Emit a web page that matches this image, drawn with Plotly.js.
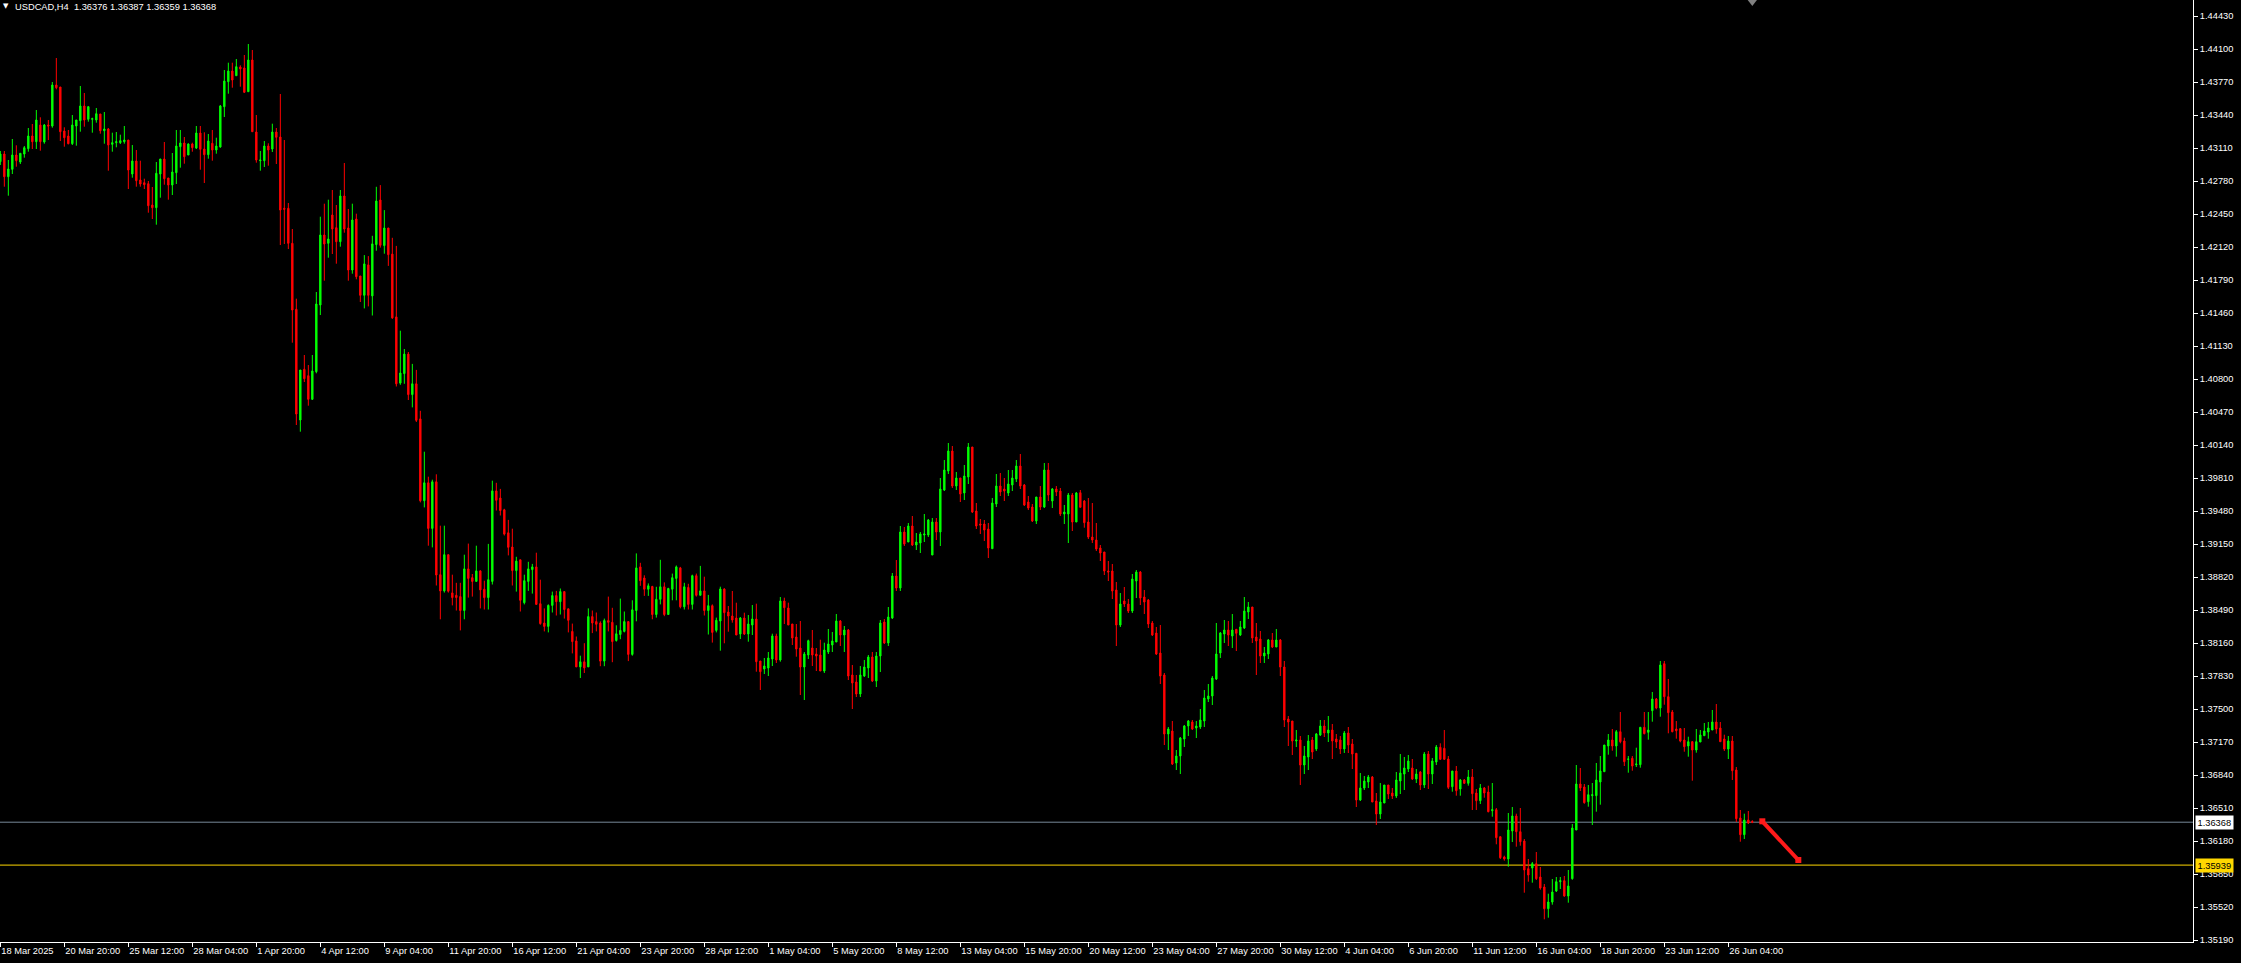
<!DOCTYPE html>
<html><head><meta charset="utf-8">
<script src="https://cdn.plot.ly/plotly-3.0.1.min.js"></script>
<style>html,body{margin:0;padding:0;background:#000;overflow:hidden}#chart{width:2241px;height:963px}</style>
</head><body><div id="chart"></div>
<script>
const symbol = "USDCAD,H4";

const open = [
1.42973,1.4305,1.42823,1.42897,1.4304,1.4297,1.4305,1.43103,1.4323,1.43173,
1.4334,1.4317,1.4334,1.4333,1.4374,1.4372,1.4328,1.4323,1.43153,1.4333,
1.43383,1.4353,1.43397,1.43397,1.4339,1.4345,1.43283,1.4330,1.43147,1.43163,
1.43163,1.43173,1.4319,1.4285,1.4298,1.4279,1.42763,1.42753,1.4254,1.42513,
1.4285,1.4300,1.4281,1.4274,1.42863,1.43123,1.4316,1.4304,1.4315,1.4311,
1.4326,1.4310,1.43043,1.43157,1.4309,1.4312,1.43523,1.43773,1.4388,1.43833,
1.4392,1.4391,1.43673,1.4399,1.4327,1.42983,1.42983,1.4313,1.4310,1.4327,
1.4322,1.42507,1.42507,1.42157,1.41497,1.4039,1.40897,1.40833,1.40597,1.40873,
1.4154,1.4224,1.42157,1.4244,1.42313,1.42173,1.4263,1.4231,1.4189,1.4240,
1.4183,1.41637,1.41941,1.41631,1.42144,1.4259,1.42134,1.4231,1.42049,1.41421,
1.40759,1.40854,1.41049,1.40644,1.40752,1.40401,1.39583,1.39762,1.39306,1.39772,
1.38843,1.38681,1.39043,1.38661,1.38637,1.38624,1.38485,1.38901,1.38813,1.38776,
1.38881,1.38698,1.38614,1.38776,1.39681,1.3961,1.39492,1.39262,1.3912,1.38884,
1.38992,1.38563,1.38776,1.38894,1.38921,1.38553,1.3836,1.38326,1.38536,1.38634,
1.38573,1.38674,1.38502,1.38276,1.38181,1.37921,1.37972,1.37921,1.38424,1.38374,
1.3836,1.37979,1.38384,1.38367,1.38185,1.38245,1.38276,1.38374,1.38046,1.38485,
1.38921,1.3881,1.38698,1.38725,1.38445,1.38597,1.38722,1.38445,1.38698,1.38806,
1.38911,1.38522,1.38715,1.38546,1.38833,1.38637,1.38681,1.38485,1.38533,1.38286,
1.3838,1.3870,1.3847,1.3843,1.3841,1.3825,1.3841,1.3825,1.3834,1.3840,
1.3798,1.3790,1.3791,1.3800,1.3823,1.3799,1.3858,1.3851,1.3835,1.3822,
1.3811,1.3792,1.3804,1.3811,1.3805,1.3804,1.3788,1.3807,1.3814,1.3817,
1.3838,1.3824,1.3829,1.3784,1.3777,1.3765,1.3783,1.3791,1.3802,1.3778,
1.3803,1.3837,1.3816,1.3841,1.3883,1.3871,1.3927,1.3917,1.3933,1.3914,
1.3916,1.3924,1.3924,1.3904,1.3937,1.3927,1.3969,1.3988,1.4008,1.3973,
1.3981,1.3966,1.3982,1.4012,1.3948,1.3935,1.3935,1.3930,1.39103,1.3955,
1.3973,1.3970,1.3966,1.3974,1.3980,1.3993,1.3974,1.3957,1.3952,1.3938,
1.3962,1.3952,1.3989,1.3958,1.3970,1.3968,1.3945,1.3945,1.3964,1.3937,
1.39663,1.3958,1.3937,1.3922,1.3919,1.3911,1.3907,1.3888,1.3888,1.3869,
1.3834,1.3858,1.3855,1.3848,1.3878,1.3887,1.3862,1.3859,1.3836,1.3826,
1.3806,1.3784,1.3725,1.3728,1.3696,1.3703,1.3720,1.3733,1.3737,1.3731,
1.3732,1.3738,1.3760,1.3763,1.3780,1.3806,1.3825,1.3829,1.3823,1.38297,
1.3824,1.3831,1.3847,1.3852,1.3822,1.3820,1.3803,1.3805,1.3819,1.3812,
1.3819,1.3792,1.3740,1.3738,1.3718,1.3719,1.3694,1.3702,1.3719,1.3710,
1.3724,1.3733,1.3726,1.3729,1.3720,1.3719,1.3710,1.3726,1.3715,1.37057,
1.3659,1.3671,1.3677,1.3682,1.3658,1.3645,1.3656,1.3674,1.3666,1.3663,
1.3678,1.3685,1.3690,1.3691,1.3680,1.3687,1.3674,1.3705,1.3685,1.3697,
1.37117,1.37107,1.3700,1.36723,1.3688,1.3670,1.3679,1.36757,1.3682,1.3666,
1.36583,1.3671,1.3667,1.36483,1.36493,1.36223,1.3602,1.3600,1.3628,1.3643,
1.36273,1.3618,1.35903,1.3591,1.35953,1.3582,1.3572,1.35503,1.3557,1.3568,
1.35773,1.35783,1.3563,1.35803,1.3629,1.3675,1.3672,1.36573,1.36633,1.36633,
1.3677,1.36873,1.3713,1.3719,1.3713,1.37273,1.3718,1.36997,1.37007,1.36943,
1.36943,1.37317,1.37267,1.37483,1.3760,1.3751,1.37953,1.37623,1.3747,1.3730,
1.37303,1.3719,1.3713,1.37173,1.3709,1.3717,1.37233,1.3727,1.3729,1.3737,
1.3731,1.3720,1.3710,1.3718,1.3689,1.3641,1.36243,1.3639,1.36376
];

const high = [
1.4308,1.4308,1.4299,1.4320,1.43137,1.43057,1.4313,1.4331,1.4335,1.4349,
1.43417,1.4335,1.4339,1.4377,1.4401,1.4372,1.43317,1.4329,1.4344,1.4339,
1.4373,1.4366,1.4353,1.43413,1.4351,1.4345,1.4347,1.4331,1.43263,1.4327,
1.43243,1.4333,1.4319,1.4314,1.4309,1.42983,1.42803,1.4278,1.4272,1.4297,
1.4300,1.4317,1.4281,1.4306,1.4329,1.4329,1.4322,1.43157,1.43163,1.4333,
1.4333,1.43267,1.4325,1.4329,1.43213,1.4354,1.4389,1.43963,1.43963,1.4400,
1.43937,1.4404,1.4415,1.4409,1.4344,1.4308,1.4318,1.43157,1.43353,1.4331,
1.4365,1.4319,1.4256,1.4230,1.41603,1.4089,1.4104,1.4094,1.4104,1.4167,
1.42423,1.42553,1.42593,1.4269,1.4254,1.4269,1.4296,1.4250,1.42553,1.42453,
1.4183,1.42039,1.42029,1.42232,1.42722,1.42739,1.42489,1.4231,1.42212,1.42131,
1.41283,1.4110,1.4107,1.40951,1.40891,1.40482,1.40073,1.39823,1.39793,1.39847,
1.39333,1.39333,1.39043,1.38843,1.38762,1.38762,1.39043,1.39154,1.3885,1.39133,
1.38887,1.38783,1.39151,1.39783,1.39762,1.39701,1.39502,1.39391,1.39303,1.39022,
1.38992,1.38843,1.38972,1.38951,1.39063,1.38793,1.38506,1.38546,1.38674,1.38681,
1.38705,1.38674,1.38502,1.38354,1.38225,1.38033,1.38158,1.38506,1.38485,1.38465,
1.38377,1.38404,1.38624,1.38512,1.38337,1.38604,1.38475,1.38374,1.38587,1.39056,
1.38962,1.38837,1.38756,1.38732,1.38722,1.38992,1.38766,1.38712,1.38854,1.38935,
1.38921,1.38762,1.38752,1.38843,1.38854,1.38931,1.38823,1.38641,1.38546,1.38414,
1.38723,1.38707,1.3853,1.3868,1.38563,1.3842,1.38463,1.3844,1.3854,1.38553,
1.3798,1.3801,1.3807,1.38253,1.38253,1.3862,1.38613,1.38563,1.3835,1.3835,
1.3838,1.3807,1.38193,1.3829,1.3811,1.38193,1.38163,1.3830,1.3827,1.3845,
1.3839,1.3833,1.3830,1.3794,1.3784,1.3793,1.3799,1.3804,1.3807,1.3807,
1.3839,1.3840,1.3852,1.3886,1.3899,1.3933,1.3932,1.3936,1.3943,1.3926,
1.3927,1.3945,1.3940,1.3941,1.3941,1.3981,1.3999,1.4016,1.4013,1.3987,
1.3981,1.3994,1.4016,1.4012,1.3956,1.3940,1.3939,1.3936,1.3961,1.3985,
1.3986,1.3981,1.3989,1.3989,1.3999,1.4005,1.3975,1.3963,1.3955,1.3962,
1.3973,1.3996,1.3996,1.3971,1.3973,1.3971,1.3954,1.3966,1.3966,1.3967,
1.3969,1.3959,1.3961,1.3956,1.3936,1.3914,1.3907,1.3898,1.3895,1.3877,
1.3866,1.3872,1.3860,1.3885,1.3889,1.3888,1.3869,1.3860,1.3838,1.3832,
1.3834,1.3786,1.3732,1.3738,1.3709,1.3722,1.3734,1.3739,1.3739,1.3738,
1.3750,1.3769,1.3775,1.3783,1.3836,1.3827,1.3839,1.3838,1.3845,1.38297,
1.3838,1.3862,1.3857,1.3852,1.3836,1.3828,1.3812,1.3820,1.3826,1.3830,
1.3820,1.3798,1.3743,1.3738,1.3729,1.3723,1.3713,1.3724,1.3722,1.3726,
1.3739,1.3739,1.3743,1.3735,1.3725,1.3723,1.3728,1.3732,1.3720,1.3706,
1.3686,1.3683,1.3684,1.3683,1.3666,1.3676,1.3674,1.3674,1.3671,1.3687,
1.3705,1.3702,1.3704,1.3700,1.3690,1.3688,1.3707,1.3708,1.3701,1.3714,
1.37157,1.3729,1.3703,1.3688,1.3693,1.3680,1.3680,1.3689,1.3690,1.3670,
1.3675,1.3672,1.36733,1.3676,1.3651,1.36223,1.36033,1.3646,1.3652,1.36453,
1.3651,1.3620,1.3600,1.3597,1.3607,1.3592,1.3575,1.35653,1.3580,1.3582,
1.3582,1.3583,1.3589,1.3635,1.3694,1.3691,1.3675,1.3674,1.3676,1.3696,
1.3703,1.3714,1.3725,1.3730,1.3729,1.3747,1.37213,1.3703,1.3703,1.37113,
1.37317,1.3747,1.3747,1.3767,1.3761,1.3798,1.3798,1.3780,1.3749,1.3738,
1.3731,1.3731,1.37223,1.3718,1.3730,1.3729,1.3736,1.3737,1.3749,1.3755,
1.3737,1.37243,1.3723,1.3723,1.3692,1.3649,1.36453,1.3648,1.36387
];

const low = [
1.4294,1.42723,1.42633,1.4285,1.42923,1.4295,1.43013,1.43073,1.4310,1.4310,
1.43083,1.43153,1.4319,1.43313,1.43697,1.4318,1.43123,1.43147,1.4314,1.43133,
1.43273,1.43323,1.43373,1.43263,1.43363,1.43253,1.43153,1.42883,1.43073,1.43117,
1.4315,1.43153,1.4270,1.42813,1.42723,1.42723,1.4270,1.42463,1.4240,1.42343,
1.42613,1.42743,1.42593,1.4264,1.4275,1.42913,1.42953,1.4304,1.43073,1.4310,
1.42893,1.4276,1.43003,1.42983,1.43053,1.43113,1.4342,1.43653,1.43713,1.43833,
1.43723,1.4366,1.43673,1.43273,1.42963,1.42883,1.4292,1.42933,1.4307,1.4295,
1.4214,1.4215,1.4210,1.41163,1.4034,1.40273,1.4077,1.40533,1.4059,1.40857,
1.4144,1.41783,1.42013,1.4205,1.41953,1.42123,1.42263,1.41783,1.41853,1.41797,
1.4157,1.41506,1.41526,1.41435,1.42083,1.42114,1.42053,1.41931,1.41401,1.40725,
1.40742,1.40752,1.4059,1.40516,1.4037,1.39566,1.39516,1.39133,1.39116,1.38735,
1.38397,1.38664,1.38664,1.38536,1.38485,1.38286,1.38397,1.38614,1.38624,1.38776,
1.38506,1.38495,1.38495,1.38745,1.39485,1.39435,1.39235,1.39036,1.38735,1.38674,
1.38475,1.38546,1.38681,1.38654,1.38546,1.38343,1.38276,1.38266,1.38465,1.38435,
1.38445,1.38404,1.38266,1.38056,1.37921,1.3781,1.3786,1.37921,1.38259,1.38276,
1.37928,1.37928,1.38276,1.37968,1.38174,1.38198,1.38266,1.37979,1.38033,1.38377,
1.38732,1.38631,1.38631,1.38397,1.38414,1.38546,1.38428,1.38445,1.38587,1.38587,
1.38506,1.38495,1.38495,1.38495,1.38624,1.38637,1.38435,1.38245,1.38164,1.38266,
1.38083,1.38157,1.38273,1.38363,1.3824,1.3820,1.3824,1.38173,1.3824,1.37873,
1.3769,1.3785,1.3783,1.3793,1.3796,1.37973,1.3835,1.3834,1.3814,1.38023,
1.3764,1.3759,1.3800,1.3793,1.3788,1.3788,1.3786,1.3805,1.3807,1.3817,
1.3813,1.3807,1.3779,1.3750,1.3762,1.3762,1.3782,1.3781,1.3777,1.3772,
1.3787,1.3815,1.3813,1.3840,1.3868,1.3868,1.3913,1.3917,1.3913,1.3909,
1.3906,1.3917,1.3922,1.3904,1.3919,1.3913,1.3968,1.3985,1.3971,1.3969,
1.3957,1.3959,1.3975,1.3946,1.3930,1.3925,1.3918,1.3901,1.3910,1.3952,
1.3963,1.3958,1.3963,1.3968,1.3977,1.3970,1.3953,1.3949,1.3937,1.3935,
1.3949,1.3951,1.3958,1.3951,1.3963,1.3943,1.3935,1.3916,1.3928,1.3937,
1.39517,1.39313,1.3920,1.3916,1.3908,1.3898,1.3884,1.3878,1.3860,1.3813,
1.3832,1.3852,1.3846,1.3846,1.3861,1.3854,1.3845,1.3831,1.3823,1.3804,
1.3775,1.3714,1.3709,1.3694,1.3689,1.3685,1.3712,1.3723,1.3729,1.3721,
1.3730,1.3732,1.3757,1.3754,1.3779,1.3801,1.3816,1.3813,1.3811,1.3808,
1.3823,1.3830,1.3840,1.3816,1.3784,1.3796,1.3796,1.3800,1.3811,1.3812,
1.3783,1.3732,1.3713,1.3704,1.3712,1.3674,1.3685,1.3689,1.3700,1.3708,
1.3723,1.3722,1.3717,1.3700,1.3711,1.3705,1.3706,1.3706,1.3690,1.3652,
1.3658,1.3669,1.3671,1.3657,1.3634,1.3640,1.3656,1.3660,1.3660,1.3661,
1.3665,1.3669,1.3687,1.3679,1.3676,1.3669,1.3671,1.3670,1.3675,1.3694,
1.3699,1.3699,1.3670,1.36673,1.36633,1.36633,1.3675,1.36733,1.3649,1.3649,
1.3655,1.36613,1.36467,1.36423,1.36147,1.3600,1.35983,1.35923,1.3617,1.36123,
1.36133,1.35663,1.35773,1.35763,1.3579,1.35693,1.35397,1.35413,1.35543,1.3567,
1.3570,1.35623,1.35563,1.35793,1.3629,1.3668,1.36553,1.36523,1.3634,1.36473,
1.36543,1.36873,1.37043,1.37083,1.37023,1.37157,1.3693,1.36863,1.36883,1.3692,
1.36913,1.37247,1.37193,1.37373,1.37497,1.37423,1.37543,1.37257,1.37267,1.37203,
1.37167,1.37073,1.37023,1.36783,1.37063,1.3717,1.3723,1.37203,1.3729,1.37253,
1.37173,1.3708,1.3700,1.3679,1.3637,1.36173,1.3620,1.3635,1.36359
];

const close = [
1.4305,1.42823,1.4290,1.4304,1.42983,1.43057,1.43113,1.4323,1.43173,1.4339,
1.43173,1.4334,1.4333,1.4374,1.43713,1.43273,1.43213,1.43153,1.4334,1.4339,
1.4353,1.4339,1.43523,1.43403,1.43453,1.43283,1.4330,1.4314,1.43163,1.43173,
1.43183,1.4319,1.4289,1.4298,1.42783,1.4275,1.42743,1.42533,1.42513,1.42857,
1.4300,1.42803,1.4274,1.4287,1.4313,1.4316,1.43023,1.4315,1.43113,1.4326,
1.43097,1.43043,1.4318,1.4309,1.4313,1.4353,1.4378,1.4388,1.4379,1.43923,
1.4390,1.43667,1.4399,1.43273,1.4299,1.4299,1.4313,1.4309,1.4327,1.43217,
1.4249,1.42497,1.42157,1.4149,1.4045,1.4089,1.40803,1.40597,1.4088,1.4155,
1.4224,1.4215,1.4220,1.4230,1.42173,1.4263,1.4230,1.4189,1.4239,1.41823,
1.41637,1.41951,1.41637,1.42151,1.4258,1.42137,1.4231,1.42043,1.41411,1.40752,
1.4086,1.41049,1.40644,1.40752,1.40387,1.39583,1.39762,1.39306,1.39772,1.3884,
1.38681,1.39043,1.38678,1.38614,1.38614,1.38485,1.38901,1.38806,1.38776,1.38881,
1.38691,1.38614,1.38793,1.39681,1.39587,1.39485,1.39249,1.39117,1.38884,1.38979,
1.38587,1.38783,1.38901,1.38921,1.38546,1.38354,1.38326,1.38536,1.38634,1.38573,
1.38674,1.38495,1.38387,1.38174,1.37921,1.37972,1.37911,1.38424,1.3836,1.38347,
1.37979,1.38384,1.38367,1.38174,1.38252,1.38286,1.38374,1.38046,1.38492,1.38911,
1.38783,1.38698,1.38732,1.38445,1.38597,1.38722,1.38445,1.38705,1.38813,1.38921,
1.38522,1.38722,1.38546,1.38833,1.38637,1.38681,1.38485,1.38533,1.38266,1.38387,
1.3870,1.38463,1.3843,1.3839,1.3824,1.3841,1.3825,1.3835,1.3840,1.37973,
1.37873,1.3793,1.3801,1.3823,1.3799,1.3858,1.38513,1.3834,1.3821,1.3810,
1.3792,1.3805,1.38183,1.3804,1.3803,1.3788,1.3809,1.3815,1.3818,1.3838,
1.3824,1.3829,1.3783,1.3776,1.3765,1.3784,1.3792,1.3802,1.3778,1.3803,
1.3836,1.3816,1.3842,1.3883,1.3871,1.3927,1.3915,1.3933,1.3914,1.3917,
1.3925,1.3925,1.3939,1.3937,1.3927,1.3970,1.3989,1.4008,1.3973,1.3981,
1.3965,1.3983,1.4012,1.3947,1.3933,1.3934,1.3929,1.3911,1.3956,1.3973,
1.3967,1.3968,1.3975,1.3981,1.3993,1.3973,1.3954,1.3951,1.3938,1.3962,
1.3952,1.3989,1.3964,1.3970,1.3967,1.3945,1.3947,1.3964,1.3937,1.3966,
1.39517,1.39363,1.3922,1.3919,1.3910,1.3906,1.3888,1.3887,1.3868,1.3834,
1.3855,1.3855,1.3848,1.3880,1.3887,1.3861,1.3857,1.3835,1.3824,1.3805,
1.3783,1.3725,1.3730,1.3695,1.3703,1.3721,1.3733,1.3738,1.3730,1.3733,
1.3739,1.3761,1.3763,1.3781,1.3805,1.3826,1.3829,1.3824,1.3829,1.38257,
1.3832,1.3848,1.3852,1.3821,1.3818,1.3803,1.3806,1.3819,1.3812,1.3819,
1.3792,1.3739,1.3737,1.3718,1.3719,1.3694,1.3703,1.3718,1.3707,1.3725,
1.3733,1.3726,1.3729,1.3718,1.3717,1.3710,1.3726,1.3714,1.3705,1.3659,
1.3671,1.3678,1.3682,1.3657,1.3645,1.3657,1.3674,1.3665,1.3663,1.3679,
1.3686,1.3691,1.3698,1.3680,1.3685,1.3674,1.3705,1.3685,1.3698,1.3712,
1.36997,1.36997,1.36717,1.3688,1.36683,1.3679,1.36757,1.3682,1.36653,1.36583,
1.3671,1.3666,1.36473,1.36493,1.36213,1.36013,1.3600,1.3629,1.3643,1.36273,
1.36173,1.3589,1.3584,1.35953,1.35803,1.3571,1.35503,1.3557,1.3567,1.35773,
1.35783,1.3563,1.3573,1.3631,1.3675,1.3671,1.36563,1.36643,1.36643,1.3679,
1.3688,1.3714,1.3719,1.3713,1.37273,1.37173,1.36973,1.3700,1.3693,1.3695,
1.37317,1.37253,1.3729,1.3760,1.3751,1.3794,1.37623,1.37463,1.37273,1.37283,
1.3718,1.37123,1.37173,1.3709,1.37173,1.3724,1.3728,1.3731,1.3737,1.3730,
1.37173,1.3710,1.3718,1.36883,1.36403,1.36243,1.3639,1.3636,1.36368
];

const timeLabels = [
"18 Mar 2025","20 Mar 20:00","25 Mar 12:00","28 Mar 04:00","1 Apr 20:00","4 Apr 12:00",
"9 Apr 04:00","11 Apr 20:00","16 Apr 12:00","21 Apr 04:00","23 Apr 20:00","28 Apr 12:00",
"1 May 04:00","5 May 20:00","8 May 12:00","13 May 04:00","15 May 20:00","20 May 12:00",
"23 May 04:00","27 May 20:00","30 May 12:00","4 Jun 04:00","6 Jun 20:00","11 Jun 12:00",
"16 Jun 04:00","18 Jun 20:00","23 Jun 12:00","26 Jun 04:00"
];
const barsPerTimeLabel = 16;

const priceTicks = [
1.35190,1.35520,1.35850,1.36180,1.36510,1.36840,1.37170,1.37500,1.37830,1.38160,
1.38490,1.38820,1.39150,1.39480,1.39810,1.40140,1.40470,1.40800,1.41130,1.41460,
1.41790,1.42120,1.42450,1.42780,1.43110,1.43440,1.43770,1.44100,1.44430
];

const bidPrice = 1.36368;
const levelPrice = 1.35939;
const arrowBars = [440.5, 449.5];
const arrowPrices = [1.36377, 1.3599];

const xs = open.map((_, i) => i);
const last = open.length - 1;
const fmt = v => v.toFixed(5);
const FONT = "Tahoma, 'Liberation Sans', Arial, sans-serif";
const FS = 9.3;

const candles = {
  type: 'candlestick', x: xs, open: open, high: high, low: low, close: close,
  increasing: {line: {color: '#00ff00', width: 1}, fillcolor: '#00ff00'},
  decreasing: {line: {color: '#ff0000', width: 1}, fillcolor: '#ff0000'},
  whiskerwidth: 0, hoverinfo: 'skip'
};
const arrow = {
  type: 'scatter', mode: 'lines+markers', x: arrowBars, y: arrowPrices,
  line: {color: '#ff1a1a', width: 4}, marker: {symbol: 'square', size: 6, color: '#ff1a1a'},
  hoverinfo: 'skip', cliponaxis: false
};
const shiftMarker = {
  type: 'scatter', mode: 'markers', x: [last], y: [1.4457],
  marker: {symbol: 'triangle-down', size: 8, color: '#808080'},
  hoverinfo: 'skip', cliponaxis: false
};

const layout = {
  width: 2241, height: 963,
  paper_bgcolor: '#000000', plot_bgcolor: '#000000',
  margin: {l: 0, r: 48, t: 0, b: 21, pad: 0},
  showlegend: false, hovermode: false, boxgap: 0.5,
  font: {family: FONT, size: FS, color: '#ffffff'},
  xaxis: {
    type: 'linear', range: [-0.083, 548.17], fixedrange: true, automargin: false,
    tickmode: 'array', tickvals: timeLabels.map((_, k) => k * barsPerTimeLabel), ticktext: timeLabels,
    tickangle: 0,
    ticks: 'outside', ticklen: 4, tickwidth: 1, tickcolor: '#ffffff',
    ticklabelposition: 'outside right',
    tickfont: {family: FONT, size: FS, color: '#ffffff'},
    showline: true, linecolor: '#ffffff', linewidth: 1,
    showgrid: false, zeroline: false, rangeslider: {visible: false}
  },
  yaxis: {
    side: 'right', range: [1.3517, 1.4459], fixedrange: true, automargin: false,
    tickmode: 'array', tickvals: priceTicks, ticktext: priceTicks.map(fmt),
    ticks: 'outside', ticklen: 4, tickwidth: 1, tickcolor: '#ffffff',
    tickfont: {family: FONT, size: FS, color: '#ffffff'},
    showline: true, linecolor: '#ffffff', linewidth: 1,
    showgrid: false, zeroline: false
  },
  shapes: [
    {type: 'line', xref: 'paper', x0: 0, x1: 1, yref: 'y', y0: bidPrice, y1: bidPrice,
     line: {color: '#778899', width: 1}, layer: 'below'},
    {type: 'line', xref: 'paper', x0: 0, x1: 1, yref: 'y', y0: levelPrice, y1: levelPrice,
     line: {color: '#ffd700', width: 1}, layer: 'below'}
  ],
  annotations: [
    {xref: 'paper', x: 0, xanchor: 'left', xshift: 1, yref: 'paper', y: 1, yanchor: 'middle', yshift: -6,
     text: '▼', showarrow: false, font: {family: "'DejaVu Sans', sans-serif", size: 7, color: '#ffffff'}},
    {xref: 'paper', x: 0, xanchor: 'left', xshift: 13, yref: 'paper', y: 1, yanchor: 'middle', yshift: -7,
     text: symbol + '\u00a0\u00a0' + [open[last], high[last], low[last], close[last]].map(fmt).join(' '),
     showarrow: false, font: {family: FONT, size: FS, color: '#ffffff'}},
    {xref: 'paper', x: 1, xanchor: 'left', xshift: 2, yref: 'y', y: bidPrice, yanchor: 'middle',
     text: fmt(bidPrice), showarrow: false, bgcolor: '#ffffff', borderpad: 1.5,
     font: {family: FONT, size: FS, color: '#000000'}},
    {xref: 'paper', x: 1, xanchor: 'left', xshift: 2, yref: 'y', y: levelPrice, yanchor: 'middle',
     text: fmt(levelPrice), showarrow: false, bgcolor: '#ffd700', borderpad: 1.5,
     font: {family: FONT, size: FS, color: '#000000'}}
  ]
};

Plotly.newPlot('chart', [candles, arrow, shiftMarker], layout, {staticPlot: true, displayModeBar: false});
</script>
</body></html>
